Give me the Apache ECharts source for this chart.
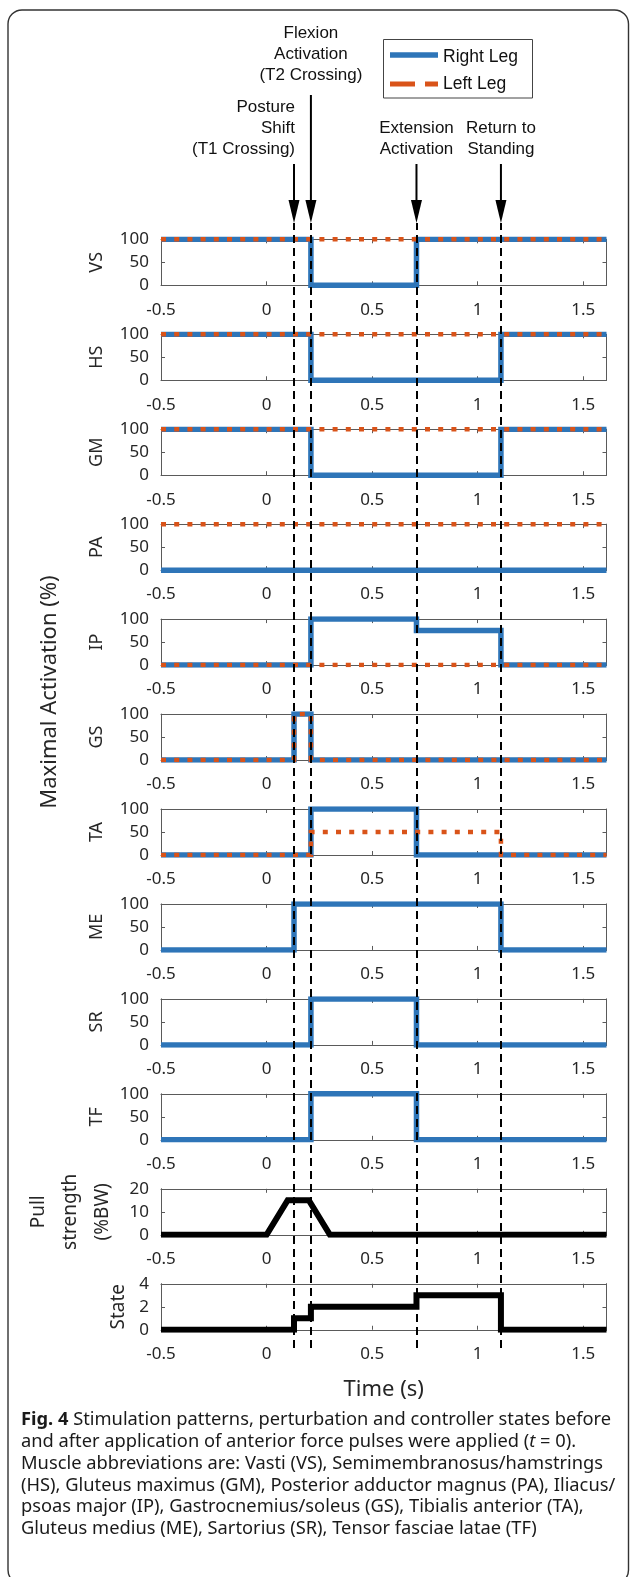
<!DOCTYPE html>
<html><head><meta charset="utf-8">
<script src="https://cdn.jsdelivr.net/npm/echarts@6/dist/echarts.min.js"></script>
<style>html,body{margin:0;padding:0;background:#fff}#c{width:630px;height:1577px}</style>
</head><body><div id="c"></div>
<script>
// ---------------- data ----------------
const X_MIN = -0.5, X_MAX = 1.61;
const X_STEP = 0.5;
const eventTimes = [0.13, 0.21, 0.71, 1.11];
const eventLabels = [
  ['Posture', 'Shift', '(T1 Crossing)'],
  ['Flexion', 'Activation', '(T2 Crossing)'],
  ['Extension', 'Activation'],
  ['Return to', 'Standing']
];
const muscleNames = ['VS', 'HS', 'GM', 'PA', 'IP', 'GS', 'TA', 'ME', 'SR', 'TF'];
// [time, level from that time on]
const VS_right = [[-0.5, 100], [0.21, 0], [0.71, 100]];
const VS_left  = [[-0.5, 100]];
const HS_right = [[-0.5, 100], [0.21, 0], [1.11, 100]];
const HS_left  = [[-0.5, 100]];
const GM_right = [[-0.5, 100], [0.21, 0], [1.11, 100]];
const GM_left  = [[-0.5, 100]];
const PA_right = [[-0.5, 0]];
const PA_left  = [[-0.5, 100]];
const IP_right = [[-0.5, 0], [0.21, 100], [0.71, 75], [1.11, 0]];
const IP_left  = [[-0.5, 0]];
const GS_right = [[-0.5, 0], [0.13, 100], [0.21, 0]];
const GS_left  = [[-0.5, 0], [0.13, 100], [0.21, 0]];
const TA_right = [[-0.5, 0], [0.21, 100], [0.71, 0]];
const TA_left  = [[-0.5, 0], [0.21, 50], [1.11, 0]];
const ME_right = [[-0.5, 0], [0.13, 100], [1.11, 0]];
const SR_right = [[-0.5, 0], [0.21, 100], [0.71, 0]];
const TF_right = [[-0.5, 0], [0.21, 100], [0.71, 0]];
const pullTime  = [-0.5, 0, 0.1, 0.2, 0.3, 1.61];
const pullValue = [0, 0, 15, 15, 0, 0];
const stateChanges = [[-0.5, 0], [0.13, 1], [0.21, 2], [0.71, 3], [1.11, 0]];
const activationRange = [0, 100, 50];
const pullRange = [0, 20, 10];
const stateRange = [0, 4, 2];
const legendNames = ['Right Leg', 'Left Leg'];
const captionLines = [
  '{b|Fig. 4} Stimulation patterns, perturbation and controller states before',
  'and after application of anterior force pulses were applied ({i|t} = 0).',
  'Muscle abbreviations are: Vasti (VS), Semimembranosus/hamstrings',
  '(HS), Gluteus maximus (GM), Posterior adductor magnus (PA), Iliacus/',
  'psoas major (IP), Gastrocnemius/soleus (GS), Tibialis anterior (TA),',
  'Gluteus medius (ME), Sartorius (SR), Tensor fasciae latae (TF)'
];

const panels = [
  { name: 'VS', right: VS_right, left: VS_left },
  { name: 'HS', right: HS_right, left: HS_left },
  { name: 'GM', right: GM_right, left: GM_left },
  { name: 'PA', right: PA_right, left: PA_left },
  { name: 'IP', right: IP_right, left: IP_left },
  { name: 'GS', right: GS_right, left: GS_left },
  { name: 'TA', right: TA_right, left: TA_left },
  { name: 'ME', right: ME_right, left: null },
  { name: 'SR', right: SR_right, left: null },
  { name: 'TF', right: TF_right, left: null }
];

// ---------------- helpers ----------------
function stepPoints(changes) {
  const pts = [];
  for (let k = 0; k < changes.length; k++) {
    const [t, v] = changes[k];
    if (k > 0) pts.push([t, changes[k - 1][1]]);
    pts.push([t, v]);
  }
  pts.push([X_MAX, changes[changes.length - 1][1]]);
  return pts;
}

// ---------------- layout / style ----------------
const TOP0 = 239.3, STEP = 94.95, H = 46, LEFT = 161, W = 445.5;
const BLUE = '#2E75B8', ORANGE = '#D95319', AXIS = '#5a5a5a', TXT = '#262626';
const FONT = 'Noto Sans';
const ANN_FONT = 'Liberation Sans';

const grids = [], xAxes = [], yAxes = [], series = [];

function xFmt(v) {
  const k = Math.round(v / X_STEP);
  if (Math.abs(v - k * X_STEP) > 1e-6) return '';
  return String(+(k * X_STEP).toFixed(1));
}

function addPanel(i, yName, range, nameOpts) {
  grids.push({ left: LEFT, top: TOP0 + STEP * i, width: W, height: H, containLabel: false, outerBoundsMode: 'none' });
  const axisLine = { show: true, onZero: false, lineStyle: { color: AXIS, width: 1 } };
  const tick = { show: true, inside: true, length: 4, lineStyle: { color: AXIS, width: 1 } };
  xAxes.push({
    type: 'value', gridIndex: i, position: 'bottom', min: X_MIN, max: X_MAX, interval: X_STEP,
    axisLine, axisTick: tick, splitLine: { show: false },
    axisLabel: { show: true, margin: 16, color: TXT, fontSize: 17, fontFamily: FONT, formatter: xFmt, showMaxLabel: false },
    name: nameOpts && nameOpts.xName ? nameOpts.xName : '',
    nameLocation: 'middle', nameGap: 49,
    nameTextStyle: { color: TXT, fontSize: 22, fontFamily: FONT }
  });
  xAxes.push({
    type: 'value', gridIndex: i, position: 'top', min: X_MIN, max: X_MAX, interval: X_STEP,
    axisLine, axisTick: tick, splitLine: { show: false }, axisLabel: { show: false }
  });
  yAxes.push({
    type: 'value', gridIndex: i, position: 'left', min: range[0], max: range[1], interval: range[2],
    axisLine, axisTick: tick, splitLine: { show: false },
    axisLabel: { show: true, margin: 12, color: TXT, fontSize: 17, fontFamily: FONT },
    name: yName, nameLocation: 'middle', nameRotate: 90,
    nameGap: (nameOpts && nameOpts.gap) || 55,
    nameTextStyle: Object.assign({ color: TXT, fontSize: 18, fontFamily: FONT }, (nameOpts && nameOpts.style) || {})
  });
  yAxes.push({
    type: 'value', gridIndex: i, position: 'right', min: range[0], max: range[1], interval: range[2],
    axisLine, axisTick: tick, splitLine: { show: false }, axisLabel: { show: false }
  });
}

panels.forEach((p, i) => {
  addPanel(i, p.name, activationRange);
  series.push({
    type: 'line', name: legendNames[0], xAxisIndex: 2 * i, yAxisIndex: 2 * i,
    data: stepPoints(p.right), showSymbol: false, symbol: 'none',
    lineStyle: { color: BLUE, width: 5.5, cap: 'butt', join: 'miter' }, z: 3
  });
  if (p.left) {
    series.push({
      type: 'line', name: legendNames[1], xAxisIndex: 2 * i, yAxisIndex: 2 * i,
      data: stepPoints(p.left), showSymbol: false, symbol: 'none',
      lineStyle: { color: ORANGE, width: 4.5, type: [5, 8.2], cap: 'butt', join: 'miter' }, z: 4
    });
  }
});

// pull strength
addPanel(10, 'Pull\nstrength\n(%BW)', pullRange, { gap: 38, style: { lineHeight: 32, fontSize: 19 } });
series.push({
  type: 'line', xAxisIndex: 20, yAxisIndex: 20,
  data: pullTime.map((t, k) => [t, pullValue[k]]), showSymbol: false, symbol: 'none',
  lineStyle: { color: '#000', width: 6, cap: 'butt', join: 'miter' }, z: 3
});
// state
addPanel(11, 'State', stateRange, { gap: 32, style: { fontSize: 19 }, xName: 'Time (s)' });
series.push({
  type: 'line', xAxisIndex: 22, yAxisIndex: 22,
  data: stepPoints(stateChanges), showSymbol: false, symbol: 'none',
  lineStyle: { color: '#000', width: 6, cap: 'butt', join: 'miter' }, z: 3
});

// overlay grid for event dashed lines
const OV = 12;
grids.push({ left: LEFT, top: 223, width: W, height: 1125, containLabel: false, outerBoundsMode: 'none' });
xAxes.push({ type: 'value', gridIndex: OV, min: X_MIN, max: X_MAX, show: false });
yAxes.push({ type: 'value', gridIndex: OV, min: 0, max: 1, show: false });
series.push({
  type: 'scatter', xAxisIndex: 24, yAxisIndex: 24, data: [], z: 10,
  markLine: {
    silent: true, symbol: ['none', 'none'], animation: false,
    label: { show: false },
    lineStyle: { color: '#000', width: 2, type: [8, 5] },
    data: eventTimes.map(t => ({ xAxis: t }))
  }
});

const chart = echarts.init(document.getElementById('c'), null, { renderer: 'canvas' });
chart.setOption({
  animation: false,
  backgroundColor: '#fff',
  grid: grids, xAxis: xAxes, yAxis: yAxes, series: series
});

// ---------------- annotations (graphic) ----------------
const g = [];
// frame
g.push({ type: 'rect', shape: { x: 8, y: 10, width: 620.5, height: 1574, r: 14 }, style: { fill: 'none', stroke: '#333', lineWidth: 1.4 }, z: 0 });

const tipY = 223;
eventTimes.forEach((t, k) => {
  const x = chart.convertToPixel({ gridIndex: 0 }, [t, 0])[0];
  const startY = k === 1 ? 95 : 164;
  g.push({ type: 'line', shape: { x1: x, y1: startY, x2: x, y2: tipY - 18 }, style: { stroke: '#000', lineWidth: 2 }, z: 20 });
  g.push({ type: 'polygon', shape: { points: [[x - 5.5, tipY - 23], [x + 5.5, tipY - 23], [x, tipY]] }, style: { fill: '#000' }, z: 20 });
  const lines = eventLabels[k];
  const lastY = k === 1 ? 75 : 149;
  const align = k === 0 ? 'right' : 'center';
  const tx = k === 0 ? x + 1 : x;
  lines.forEach((s, j) => {
    g.push({ type: 'text', x: tx, y: lastY - (lines.length - 1 - j) * 20.7,
      style: { text: s, fill: '#111', font: '17px "' + ANN_FONT + '"', textAlign: align, textVerticalAlign: 'middle' }, z: 20 });
  });
});

// legend
g.push({ type: 'rect', shape: { x: 383.5, y: 39.5, width: 149, height: 58.5 }, style: { fill: '#fff', stroke: '#444', lineWidth: 1 }, z: 20 });
g.push({ type: 'line', shape: { x1: 390, y1: 55, x2: 438, y2: 55 }, style: { stroke: BLUE, lineWidth: 5.5 }, z: 21 });
g.push({ type: 'line', shape: { x1: 390, y1: 84, x2: 438, y2: 84 }, style: { stroke: ORANGE, lineWidth: 5, lineDash: [25, 10] }, z: 21 });
g.push({ type: 'text', x: 443, y: 57, style: { text: legendNames[0], fill: '#111', font: '17.5px "' + ANN_FONT + '"', textVerticalAlign: 'middle' }, z: 21 });
g.push({ type: 'text', x: 443, y: 84, style: { text: legendNames[1], fill: '#111', font: '17.5px "' + ANN_FONT + '"', textVerticalAlign: 'middle' }, z: 21 });

// big y label
g.push({ type: 'text', x: 50, y: 692, rotation: Math.PI / 2,
  style: { text: 'Maximal Activation (%)', fill: TXT, font: '22px "' + FONT + '"', textAlign: 'center', textVerticalAlign: 'middle' }, z: 20 });

// caption
const capStyle = { fontSize: 18.3, fontFamily: FONT, lineHeight: 21.8, fill: '#1a1a1a' };
g.push({ type: 'text', x: 21, y: 1409,
  style: Object.assign({}, capStyle, {
    text: captionLines.join('\n'),
    rich: {
      b: Object.assign({}, capStyle, { fontWeight: 'bold' }),
      i: Object.assign({}, capStyle, { fontStyle: 'italic' })
    }
  }), z: 20 });

chart.setOption({ graphic: g });
</script></body></html>
